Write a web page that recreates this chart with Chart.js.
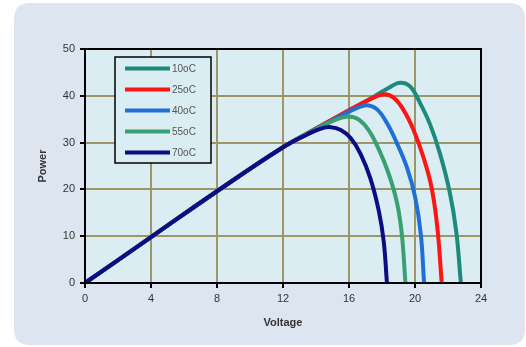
<!DOCTYPE html>
<html>
<head>
<meta charset="utf-8">
<script src="https://cdn.jsdelivr.net/npm/chart.js@4"></script>
<style>
html,body{margin:0;padding:0;background:#ffffff;}
#wrap{width:526px;height:347px;position:relative;}
</style>
</head>
<body>
<div id="wrap"><canvas id="c" width="526" height="347"></canvas></div>
<script>
// Series labels
const seriesLabels = ["10oC", "25oC", "40oC", "55oC", "70oC"];
const seriesColors = ["#1c8a7c", "#ff1414", "#1f6fd6", "#38a072", "#0c0c84"];

// Shared rising part (Voltage, Power)
const commonV = [0, 4, 8, 12];
const commonP = [0, 9.8, 19.6, 29.0];

// 10oC
const v10 = [14, 16, 17.5, 18.5, 19.1, 19.7, 20.3, 20.9, 21.5, 22.1, 22.5, 22.78];
const p10 = [33.0, 36.9, 39.8, 41.9, 42.8, 42.0, 38.5, 34.0, 27.8, 19.5, 11.0, 0];
// 25oC
const v25 = [14, 16, 17.3, 18.1, 18.7, 19.3, 19.9, 20.5, 21.0, 21.35, 21.62];
const p25 = [33.0, 36.9, 39.3, 40.3, 39.6, 37.0, 32.8, 27.0, 20.5, 12.0, 0];
// 40oC
const v40 = [14, 15.5, 16.5, 17.1, 17.7, 18.3, 18.9, 19.5, 20.0, 20.35, 20.55];
const p40 = [32.9, 35.7, 37.4, 38.0, 37.1, 34.2, 29.9, 24.8, 18.5, 10.5, 0];
// 55oC
const v55 = [14, 15.2, 16.0, 16.6, 17.2, 17.8, 18.4, 18.9, 19.2, 19.42];
const p55 = [32.8, 34.9, 35.6, 34.9, 32.6, 28.6, 23.4, 17.3, 10.5, 0];
// 70oC
const v70 = [13.5, 14.3, 14.9, 15.5, 16.1, 16.7, 17.3, 17.8, 18.1, 18.3];
const p70 = [31.8, 33.0, 33.3, 32.7, 31.0, 27.6, 22.3, 15.5, 9.0, 0];

// Axis ticks
const xTicks = [0, 4, 8, 12, 16, 20, 24];
const yTicks = [0, 10, 20, 30, 40, 50];

function pts(vs, ps) {
  const V = commonV.concat(vs), P = commonP.concat(ps);
  return V.map((v, i) => ({x: v, y: P[i]}));
}
const seriesV = [v10, v25, v40, v55, v70];
const seriesP = [p10, p25, p40, p55, p70];

// Draw order: 70oC on top -> put it first (index 0 drawn last in Chart.js)
const datasets = [];
for (let i = seriesLabels.length - 1; i >= 0; i--) {
  datasets.push({
    label: seriesLabels[i],
    data: pts(seriesV[i], seriesP[i]),
    borderColor: seriesColors[i],
    backgroundColor: seriesColors[i],
    borderWidth: 4,
    pointRadius: 0,
    tension: 0.4,
    fill: false
  });
}

const bgPlugin = {
  id: 'bg',
  beforeDraw(chart) {
    const ctx = chart.ctx;
    ctx.save();
    ctx.fillStyle = '#ffffff';
    ctx.fillRect(0, 0, chart.width, chart.height);
    // rounded panel
    const x = 14, y = 3, w = 511, h = 342, r = 16;
    ctx.fillStyle = '#dce5f0';
    ctx.beginPath();
    ctx.moveTo(x + r, y);
    ctx.lineTo(x + w - r, y);
    ctx.quadraticCurveTo(x + w, y, x + w, y + r);
    ctx.lineTo(x + w, y + h - r);
    ctx.quadraticCurveTo(x + w, y + h, x + w - r, y + h);
    ctx.lineTo(x + r, y + h);
    ctx.quadraticCurveTo(x, y + h, x, y + h - r);
    ctx.lineTo(x, y + r);
    ctx.quadraticCurveTo(x, y, x + r, y);
    ctx.closePath();
    ctx.fill();
    const a = chart.chartArea;
    ctx.fillStyle = '#daedf2';
    ctx.fillRect(a.left, a.top, a.right - a.left, a.bottom - a.top);
    ctx.restore();
  },
  afterDraw(chart) {
    const ctx = chart.ctx;
    const a = chart.chartArea;
    ctx.save();
    ctx.strokeStyle = '#000000';
    ctx.lineWidth = 2;
    ctx.strokeRect(a.left, a.top, a.right - a.left, a.bottom - a.top);
    // legend box
    const lx = 115, ly = 57, lw = 96, lh = 106;
    ctx.fillStyle = '#daedf2';
    ctx.fillRect(lx, ly, lw, lh);
    ctx.lineWidth = 1.5;
    ctx.strokeRect(lx, ly, lw, lh);
    ctx.font = '10px "Liberation Sans", Arial, sans-serif';
    ctx.textBaseline = 'middle';
    ctx.textAlign = 'left';
    for (let i = 0; i < seriesLabels.length; i++) {
      const yy = 68.5 + i * 21;
      ctx.strokeStyle = seriesColors[i];
      ctx.lineWidth = 4;
      ctx.beginPath();
      ctx.moveTo(125, yy);
      ctx.lineTo(170, yy);
      ctx.stroke();
      ctx.fillStyle = '#555555';
      ctx.fillText(seriesLabels[i], 172, yy + 0.5);
    }
    ctx.restore();
  }
};

new Chart(document.getElementById('c'), {
  type: 'line',
  data: { datasets },
  plugins: [bgPlugin],
  options: {
    responsive: false,
    animation: false,
    devicePixelRatio: 1,
    layout: { padding: { left: 36, top: 49, right: 45, bottom: 17 } },
    plugins: { legend: { display: false }, tooltip: { enabled: false } },
    scales: {
      x: {
        type: 'linear',
        min: 0, max: 24,
        afterFit(s) { s.height = 47; },
        afterBuildTicks(s) { s.ticks = xTicks.map(v => ({value: v})); },
        grid: { color: '#9e9666', lineWidth: 2, tickColor: '#000000', tickLength: 5, drawTicks: true },
        border: { color: '#000000', width: 2 },
        ticks: { color: '#333333', font: { family: '"Liberation Sans", Arial, sans-serif', size: 11 }, padding: 4, maxRotation: 0 },
        title: { display: true, text: 'Voltage', color: '#333333', padding: 0, font: { family: '"Liberation Sans", Arial, sans-serif', size: 11, weight: 'bold' } }
      },
      y: {
        type: 'linear',
        min: 0, max: 50,
        afterFit(s) { s.width = 49; },
        afterBuildTicks(s) { s.ticks = yTicks.map(v => ({value: v})); },
        grid: { color: '#9e9666', lineWidth: 2, tickColor: '#000000', tickLength: 5 },
        border: { color: '#000000', width: 2 },
        ticks: { color: '#333333', font: { family: '"Liberation Sans", Arial, sans-serif', size: 11 }, padding: 5 },
        title: { display: true, text: 'Power', color: '#333333', padding: 0, font: { family: '"Liberation Sans", Arial, sans-serif', size: 11, weight: 'bold' } }
      }
    }
  }
});
</script>
</body>
</html>
